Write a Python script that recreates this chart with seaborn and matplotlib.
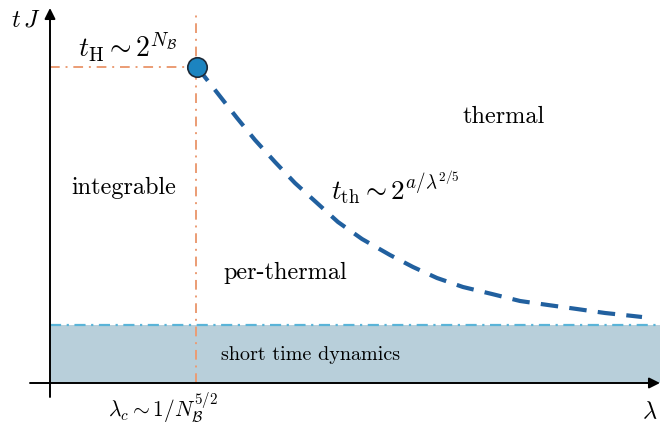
import numpy as np
import pandas as pd
import matplotlib
matplotlib.use("Agg")
import matplotlib.pyplot as plt
import seaborn as sns

# Crossover curve t_th(lambda), schematic units (lambda axis 0..10, t axis 0..10)
lam_th = [2.410, 2.770, 3.066, 3.361, 3.689, 4.016, 4.377, 4.721, 5.115, 5.574,
          5.951, 6.344, 6.770, 7.246, 7.705, 8.164, 8.639, 9.098, 9.557, 9.705]
t_th = [8.427, 7.680, 7.067, 6.480, 5.893, 5.333, 4.800, 4.293, 3.840, 3.413,
        3.093, 2.800, 2.560, 2.373, 2.187, 2.080, 1.973, 1.867, 1.787, 1.760]

lam_c = 2.39          # critical coupling
t_H = 8.43            # Heisenberg time
t_short = 1.55        # upper edge of short-time region
lam_max = 10.0
t_max = 9.95

region_labels = ["integrable", "per-thermal", "thermal", "short time dynamics"]

sns.set_theme(style="white")
plt.rcParams["font.family"] = ["cmr10", "DejaVu Serif"]
plt.rcParams["mathtext.fontset"] = "cm"
plt.rcParams["axes.formatter.use_mathtext"] = True
plt.rcParams["text.color"] = "black"

fig = plt.figure(figsize=(6.61, 4.30), dpi=100)
ax = fig.add_axes([0, 0, 1, 1])
ax.set_xlim(-50 / 61, 611 / 61)
ax.set_ylim(-47 / 37.5, 383 / 37.5)
ax.axis("off")

# short-time band
ax.fill_between([0, lam_max], 0, t_short, color="#b8cfda", lw=0, zorder=1)
ax.plot([0, lam_max], [t_short, t_short], color="#5ab4d8", lw=1.6,
        dashes=(5, 2.5, 1, 2.5), zorder=2)

# critical coupling and Heisenberg time guides
orange = "#eb9c74"
ax.plot([lam_c, lam_c], [0, t_max], color=orange, lw=1.4,
        dashes=(5, 3, 1, 3), zorder=2)
ax.plot([0, lam_c], [t_H, t_H], color=orange, lw=1.4,
        dashes=(5, 3, 1, 3), zorder=2)

# thermalisation time curve
df = pd.DataFrame({"lam": lam_th, "t": t_th})
sns.lineplot(data=df, x="lam", y="t", ax=ax, color="#21609f", lw=3.0,
             sort=False, zorder=3)
ax.lines[-1].set_dashes((4.2, 2.7))

ax.plot([lam_th[0]], [t_th[0]], marker="o", ms=14, mfc="#1c84c0",
        mec="#1d2a38", mew=1.2, zorder=5, ls="none")

# axes with arrows
arrow = dict(arrowstyle="-|>", lw=1.4, color="black", mutation_scale=16,
             shrinkA=0, shrinkB=0)
ax.annotate("", xy=(10.0, 0), xytext=(-20 / 61, 0), arrowprops=arrow, zorder=6)
ax.annotate("", xy=(0, 375 / 37.5), xytext=(0, -14 / 37.5), arrowprops=arrow, zorder=6)

fs = 17.5
ax.text(-24 / 61, 363 / 37.5, r"$t\,J$", fontsize=fs, ha="center", va="center")
ax.text(10.0 - 10 / 61, -29 / 37.5, r"$\lambda$", fontsize=fs, ha="center", va="center")
ax.text(78 / 61, 335 / 37.5, r"$t_{\mathrm{H}}\sim 2^{N_{\mathcal{B}}}$",
        fontsize=20, ha="center", va="center")
ax.text(345 / 61, 195 / 37.5, r"$t_{\mathrm{th}}\sim 2^{a/\lambda^{2/5}}$",
        fontsize=19.5, ha="center", va="center")
ax.text(113 / 61, -25 / 37.5, r"$\lambda_c\sim 1/N_{\mathcal{B}}^{5/2}$",
        fontsize=15.5, ha="center", va="center")

ax.text(74 / 61, 195 / 37.5, region_labels[0], fontsize=fs, ha="center", va="center")
ax.text(235 / 61, 110 / 37.5, region_labels[1], fontsize=fs, ha="center", va="center")
ax.text(454 / 61, 266 / 37.5, region_labels[2], fontsize=fs, ha="center", va="center")
ax.text(261 / 61, 28 / 37.5, region_labels[3], fontsize=14.5, ha="center", va="center")

fig.savefig("out.png", dpi=100)
